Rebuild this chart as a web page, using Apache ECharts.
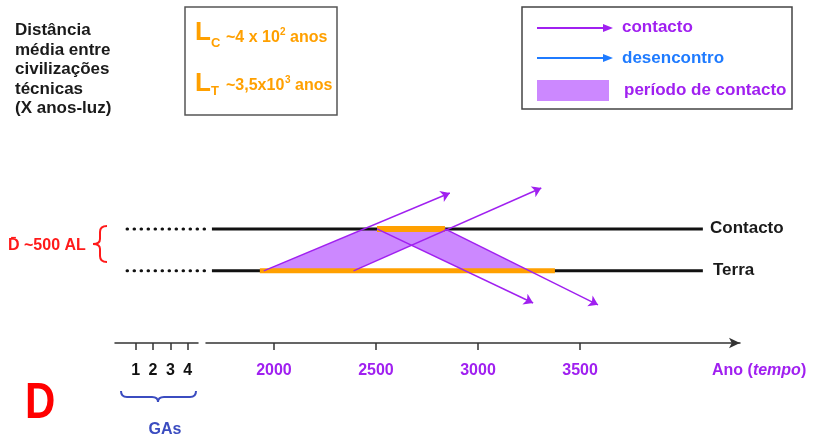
<!DOCTYPE html>
<html>
<head>
<meta charset="utf-8">
<script src="https://cdn.jsdelivr.net/npm/echarts@6.0.0/dist/echarts.min.js"></script>
<style>
  html, body { margin: 0; padding: 0; background: #fff; }
  #main { width: 817px; height: 441px; }
</style>
</head>
<body>
<div id="main"></div>
<script>
// eixo do tempo (anos) e escala das GAs
const anoTicks = [2000, 2500, 3000, 3500];
const gaTicks = [1, 2, 3, 4];

// níveis em anos-luz: Terra = 0, civilização em contacto = 500
const terraNivel = 0;
const contactoNivel = 500;

// linhas pretas: tracejado e contínuo
const tracejado = [1280, 1690];
const linhaCheia = [1696, 4102];

// períodos das civilizações (barras laranja)
const periodoTerra = [1931, 3377];
const periodoContacto = [2505, 2838];

// sinais: [ano inicio, nivel inicio, ano fim, nivel fim]
const sinais = [
  [1950, 0, 2862, 929],
  [2390, 0, 3310, 988],
  [2505, 500, 3270, -383],
  [2838, 500, 3588, -405]
];

// zonas de contacto (4 vértices ano,nivel)
const zonas = [
  [1950, 0, 2441, 500, 2855, 500, 2390, 0],
  [2505, 500, 2838, 500, 3252, 0, 2939, 0]
];

const roxo = '#a020f0';
const lilas = '#cc88ff';
const laranja = '#ffa000';
const azul = '#1f7bff';
const vermelho = '#ff1a1a';
const fonte = '"Liberation Sans", Arial, sans-serif';

const myChart = echarts.init(document.getElementById('main'));

function texto(x, y, text, size, color, extra) {
  return {
    type: 'text', x: x, y: y, silent: true,
    style: Object.assign({
      text: text, fill: color,
      font: 'bold ' + size + 'px ' + fonte,
      align: 'left', verticalAlign: 'middle'
    }, extra || {})
  };
}
function curva(x1, y1, cx, cy, x2, y2, color) {
  return {
    type: 'bezierCurve', silent: true,
    shape: { x1: x1, y1: y1, cpx1: cx, cpy1: cy, x2: x2, y2: y2 },
    style: { stroke: color, lineWidth: 2, fill: null }
  };
}
function reta(x1, y1, x2, y2, color, w) {
  return {
    type: 'line', silent: true,
    shape: { x1: x1, y1: y1, x2: x2, y2: y2 },
    style: { stroke: color, lineWidth: w || 2 }
  };
}

// todas as marcas vão para a grelha 2 (escala de anos alargada, eixos ocultos)
const linhaSerie = (xs, nivel, cor, largura, tipo, z) => ({
  type: 'line', xAxisIndex: 2, yAxisIndex: 2,
  data: [[xs[0], nivel], [xs[1], nivel]],
  symbol: 'none', silent: true, z: z,
  lineStyle: { color: cor, width: largura, type: tipo || 'solid', cap: tipo ? 'round' : 'butt' }
});

const eixoLinha = { onZero: false, lineStyle: { color: '#333', width: 1.5 } };

const option = {
  animation: false,
  backgroundColor: '#fff',
  grid: [
    { left: 115, width: 83, top: 187, bottom: 98, outerBoundsMode: 'none' },
    { left: 206, right: 77, top: 187, bottom: 98, outerBoundsMode: 'none' },
    { left: 115, right: 77, top: 187, bottom: 98, outerBoundsMode: 'none' }
  ],
  xAxis: [
    {
      gridIndex: 0, type: 'value', min: -0.2, max: 4.6,
      axisLine: eixoLinha,
      axisTick: { customValues: gaTicks, length: 7, lineStyle: { color: '#333', width: 1.5 } },
      axisLabel: { customValues: gaTicks, margin: 20, color: '#111', fontWeight: 'bold', fontSize: 16, fontFamily: fonte },
      splitLine: { show: false }
    },
    {
      gridIndex: 1, type: 'value', min: 1667, max: 4284,
      axisLine: Object.assign({ symbol: ['none', 'arrow'], symbolSize: [8, 11] }, eixoLinha),
      axisTick: { customValues: anoTicks, length: 7, lineStyle: { color: '#333', width: 1.5 } },
      axisLabel: {
        customValues: anoTicks, margin: 20, color: roxo, fontWeight: 'bold', fontSize: 16, fontFamily: fonte,
        formatter: v => String(v)
      },
      splitLine: { show: false }
    },
    { gridIndex: 2, type: 'value', min: 1221, max: 4284, show: false }
  ],
  yAxis: [
    { gridIndex: 0, type: 'value', min: -860, max: 1000, show: false },
    { gridIndex: 1, type: 'value', min: -860, max: 1000, show: false },
    { gridIndex: 2, type: 'value', min: -860, max: 1000, show: false }
  ],
  series: [
    {
      type: 'custom', xAxisIndex: 2, yAxisIndex: 2, data: zonas, z: 1, silent: true,
      encode: { x: [0, 2, 4, 6], y: [1, 3, 5, 7] },
      renderItem: function (params, api) {
        const pts = [];
        for (let i = 0; i < 8; i += 2) pts.push(api.coord([api.value(i), api.value(i + 1)]));
        return { type: 'polygon', shape: { points: pts }, style: { fill: lilas } };
      }
    },
    linhaSerie(tracejado, contactoNivel, '#111', 3, [0.5, 6.5], 2),
    linhaSerie(tracejado, terraNivel, '#111', 3, [0.5, 6.5], 2),
    linhaSerie(linhaCheia, contactoNivel, '#111', 3, null, 2),
    linhaSerie(linhaCheia, terraNivel, '#111', 3, null, 2),
    linhaSerie(periodoContacto, contactoNivel, laranja, 6, null, 3),
    linhaSerie(periodoTerra, terraNivel, laranja, 5, null, 3),
    {
      type: 'lines', coordinateSystem: 'cartesian2d', xAxisIndex: 2, yAxisIndex: 2, z: 4, silent: true,
      symbol: ['none', 'arrow'], symbolSize: 9,
      lineStyle: { color: roxo, width: 1.5, opacity: 1 },
      data: sinais.map(s => ({ coords: [[s[0], s[1]], [s[2], s[3]]] }))
    }
  ],
  graphic: [
    texto(15, 21, 'Distância\nmédia entre\ncivilizações\ntécnicas\n(X anos-luz)', 17, '#1a1a1a', { verticalAlign: 'top', lineHeight: 19.5 }),

    // caixa dos tempos de vida
    { type: 'rect', silent: true, shape: { x: 185, y: 7, width: 152, height: 108 }, style: { fill: null, stroke: '#555', lineWidth: 1.5 } },
    texto(195, 33, 'L', 26, laranja),
    texto(211, 43, 'C', 13, laranja),
    texto(226, 38, '~4 x 10', 16, laranja),
    texto(280, 32, '2', 10, laranja),
    texto(290, 38, 'anos', 16, laranja),
    texto(195, 84, 'L', 26, laranja),
    texto(211, 91, 'T', 13, laranja),
    texto(226, 86, '~3,5x10', 16, laranja),
    texto(285, 80, '3', 10, laranja),
    texto(295, 86, 'anos', 16, laranja),

    // legenda
    { type: 'rect', silent: true, shape: { x: 522, y: 7, width: 270, height: 102 }, style: { fill: null, stroke: '#444', lineWidth: 1.5 } },
    reta(537, 28, 606, 28, roxo, 2),
    { type: 'polygon', silent: true, shape: { points: [[603, 24], [613, 28], [603, 32]] }, style: { fill: roxo } },
    texto(622, 27, 'contacto', 17, roxo),
    reta(537, 58, 606, 58, azul, 2),
    { type: 'polygon', silent: true, shape: { points: [[603, 54], [613, 58], [603, 62]] }, style: { fill: azul } },
    texto(622, 58, 'desencontro', 17, azul),
    { type: 'rect', silent: true, shape: { x: 537, y: 80, width: 72, height: 21 }, style: { fill: lilas } },
    texto(624, 90, 'período de contacto', 17, roxo),

    // distância e chaveta
    texto(8, 246, 'D\u0304 ~500 AL', 16, vermelho),
    curva(107, 226, 100, 226, 100, 232, vermelho),
    reta(100, 232, 100, 239, vermelho),
    curva(100, 239, 100, 244, 93, 244, vermelho),
    curva(93, 244, 100, 244, 100, 249, vermelho),
    reta(100, 249, 100, 256, vermelho),
    curva(100, 256, 100, 262, 107, 262, vermelho),

    texto(710, 228, 'Contacto', 17, '#1a1a1a'),
    texto(713, 270, 'Terra', 17, '#1a1a1a'),

    {
      type: 'text', x: 712, y: 371, silent: true,
      style: {
        text: '{a|Ano (}{b|tempo}{a|)}', verticalAlign: 'middle', align: 'left',
        rich: {
          a: { fill: roxo, fontWeight: 'bold', fontSize: 16, fontFamily: fonte },
          b: { fill: roxo, fontWeight: 'bold', fontStyle: 'italic', fontSize: 16, fontFamily: fonte }
        }
      }
    },

    // chaveta das GAs
    curva(121, 391, 121, 397, 127, 397, '#3b4cc0'),
    reta(127, 397, 152, 397, '#3b4cc0'),
    curva(152, 397, 158, 397, 158, 402, '#3b4cc0'),
    curva(158, 402, 158, 397, 164, 397, '#3b4cc0'),
    reta(164, 397, 190, 397, '#3b4cc0'),
    curva(190, 397, 196, 397, 196, 391, '#3b4cc0'),
    texto(165, 430, 'GAs', 16, '#3b4cc0', { align: 'center' }),

    Object.assign(texto(25, 404, 'D', 50, '#ff0000'), { scaleX: 0.84 })
  ]
};

myChart.setOption(option);
</script>
</body>
</html>
